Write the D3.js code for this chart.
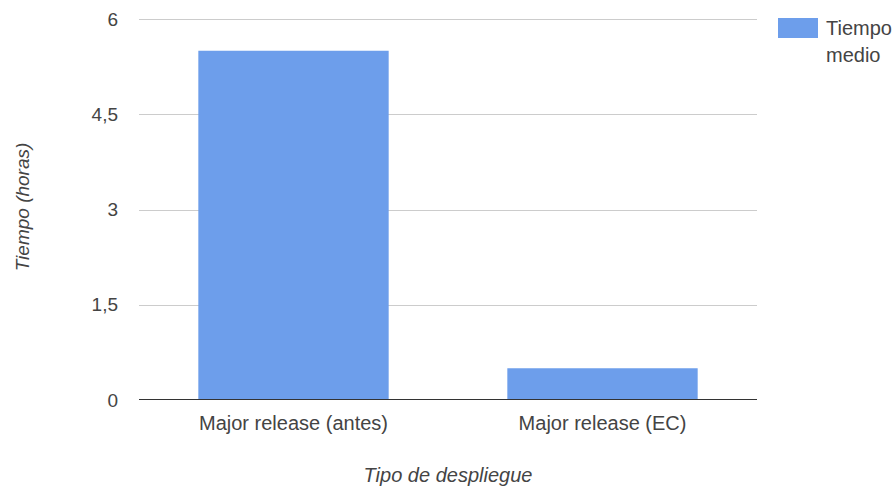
<!DOCTYPE html>
<html><head><meta charset="utf-8">
<script src="https://cdn.jsdelivr.net/npm/d3@7"></script>
<style>body{margin:0;background:#fff}svg{display:block;font-family:"Liberation Sans",Arial,sans-serif}</style>
</head><body><svg id="c" width="896" height="492"></svg>
<script>
const categories = ["Major release (antes)", "Major release (EC)"];
const values = [5.5, 0.5];
const tickValues = [0, 1.5, 3, 4.5, 6];
const tickLabels = ["0", "1,5", "3", "4,5", "6"];
const seriesName = ["Tiempo", "medio"];

const svg = d3.select("#c");
const m = {left: 139, right: 757, top: 19, bottom: 400};
const x = d3.scaleBand().domain(categories).range([m.left, m.right]).paddingInner(0.384).paddingOuter(0.192);
const y = d3.scaleLinear().domain([0, 6]).range([m.bottom, m.top]);
const color = "#6d9eeb", text = "#444";

// gridlines
svg.append("g").selectAll("line").data(tickValues.filter(d => d !== 0)).join("line")
  .attr("x1", m.left).attr("x2", m.right)
  .attr("y1", d => Math.round(y(d)) + 0.5).attr("y2", d => Math.round(y(d)) + 0.5)
  .attr("stroke", "#cccccc").attr("stroke-width", 1);

// y tick labels
const yAxis = d3.axisLeft(y).tickValues(tickValues).tickFormat((d, i) => tickLabels[i]).tickSize(0).tickPadding(21);
const ya = svg.append("g").attr("transform", `translate(${m.left},0)`).call(yAxis);
ya.select(".domain").remove();
ya.selectAll("text").attr("font-size", 19).attr("fill", text).attr("font-family", "Liberation Sans, Arial, sans-serif");

// bars
svg.append("g").selectAll("rect").data(values).join("rect")
  .attr("x", (d, i) => x(categories[i])).attr("width", x.bandwidth())
  .attr("y", d => y(d)).attr("height", d => y(0) - y(d))
  .attr("fill", color);

// baseline
svg.append("line").attr("x1", m.left).attr("x2", m.right)
  .attr("y1", Math.round(y(0)) - 0.5).attr("y2", Math.round(y(0)) - 0.5)
  .attr("stroke", "#333").attr("stroke-width", 1);

// x axis labels
const xAxis = d3.axisBottom(x).tickSize(0).tickPadding(16);
const xa = svg.append("g").attr("transform", `translate(0,${m.bottom})`).call(xAxis);
xa.select(".domain").remove();
xa.selectAll("text").attr("font-size", 20).attr("fill", text).attr("font-family", "Liberation Sans, Arial, sans-serif");

// axis titles
svg.append("text").attr("x", 448).attr("y", 482).attr("text-anchor", "middle")
  .attr("font-size", 20).attr("font-style", "italic").attr("fill", text).text("Tipo de despliegue");
svg.append("text").attr("transform", "translate(29,207) rotate(-90)").attr("text-anchor", "middle")
  .attr("font-size", 19).attr("font-style", "italic").attr("fill", text).text("Tiempo (horas)");

// legend
svg.append("rect").attr("x", 778).attr("y", 18).attr("width", 40).attr("height", 20).attr("fill", color);
svg.append("text").attr("x", 826).attr("y", 35).attr("font-size", 20).attr("fill", text)
  .selectAll("tspan").data(seriesName).join("tspan")
  .attr("x", 826).attr("dy", (d, i) => i ? 27 : 0).text(d => d);
</script></body></html>
